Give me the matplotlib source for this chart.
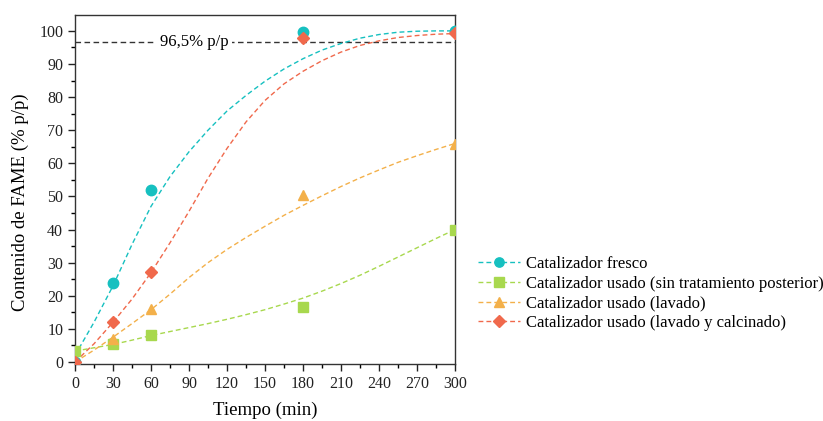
import matplotlib
matplotlib.use("Agg")
import matplotlib.pyplot as plt
from matplotlib.ticker import MultipleLocator

plt.rcParams['font.family'] = ['Liberation Serif', 'DejaVu Serif']

# measured points
t_pts = [0, 30, 60, 180, 300]
fresco = [0, 23.8, 52.0, 99.8, 100.0]
sin_trat = [3.2, 5.3, 8.1, 16.7, 40.0]
lavado = [0, 6.9, 15.9, 50.4, 65.8]
lav_calc = [0, 12.2, 27.3, 97.9, 99.3]

# fitted curves
t_fit = [0, 15, 30, 45, 60, 75, 90, 105, 120, 135, 150, 165, 180, 195, 210, 225, 240, 255, 270, 285, 300]
fit_fresco = [2, 12, 23, 35.5, 47, 56, 63.5, 70, 75.8, 80.5, 84.8, 88.5, 91.6, 94.2, 96.2, 97.8, 98.9, 99.6, 99.9, 100, 100]
fit_sin = [3.3, 4.3, 5.3, 6.6, 8.0, 9.2, 10.4, 11.6, 12.9, 14.3, 15.8, 17.5, 19.3, 21.4, 23.7, 26.2, 28.9, 31.7, 34.5, 37.3, 40.0]
fit_lav = [0, 3.6, 7.5, 11.6, 15.8, 20.5, 25.5, 30, 34, 37.6, 41, 44.3, 47.3, 50.2, 53, 55.6, 58, 60.3, 62.3, 64.2, 66]
fit_calc = [0, 5.5, 12, 19, 27, 36, 45.5, 55.5, 64.5, 72.5, 79, 84, 87.8, 91, 93.6, 95.6, 97, 98, 98.6, 99, 99.2]

labels = ["Catalizador fresco",
          "Catalizador usado (sin tratamiento posterior)",
          "Catalizador usado (lavado)",
          "Catalizador usado (lavado y calcinado)"]
colors = ["#16c0c0", "#a8d84e", "#f3b04a", "#f0694c"]
markers = ["o", "s", "^", "D"]
ref_value = 96.5
xticks = list(range(0, 301, 30))
yticks = list(range(0, 101, 10))

fig = plt.figure(figsize=(8.23, 4.21), dpi=100)
ax = fig.add_axes([75/823, 1-364/421, 380/823, 349/421])

series = [(fresco, fit_fresco), (sin_trat, fit_sin), (lavado, fit_lav), (lav_calc, fit_calc)]
handles = []
for (pts, fit), c, m, lab in zip(series, colors, markers, labels):
    ax.plot(t_fit, fit, color=c, lw=1.0, dashes=(3.5, 2.2), zorder=2)
    ms = 7.5 if m != 'D' else 6.6
    ax.plot(t_pts, pts, linestyle='none', marker=m, color=c, ms=ms, zorder=3)
    h, = ax.plot([], [], color=c, lw=1.0, dashes=(3.5, 2.2), marker=m, ms=ms - 0.8, label=lab)
    handles.append(h)

ax.axhline(ref_value, color='#333333', lw=1.0, dashes=(4, 2.5), zorder=1)
ax.text(94, ref_value, "96,5% p/p", ha='center', va='center', fontsize=12,
        bbox=dict(facecolor='white', edgecolor='none', pad=2.5), zorder=1.5)

ax.set_xlim(0, 300)
ax.set_ylim(-0.6, 104.8)
ax.set_xticks(xticks)
ax.set_yticks(yticks)
ax.xaxis.set_minor_locator(MultipleLocator(15))
ax.yaxis.set_minor_locator(MultipleLocator(5))
ax.tick_params(which='major', direction='out', length=5, width=1, labelsize=11.5, colors='#222222', top=False, right=False)
ax.tick_params(which='minor', direction='out', length=3, width=1, top=False, right=False)
for s in ax.spines.values():
    s.set_color('#333333')
    s.set_linewidth(1.0)

fig.text(265/823, 1-402/421, "Tiempo (min)", ha='center', va='top', fontsize=13.5)
fig.text(20/823, 1-202/421, "Contenido de FAME (% p/p)", ha='center', va='center',
         rotation=90, fontsize=13.5)

fig.legend(handles=handles, loc='upper left', bbox_to_anchor=(478/823, 1-256/421),
           frameon=False, fontsize=12, handlelength=2.5, handletextpad=0.35,
           labelspacing=0.22, numpoints=1, borderaxespad=0, borderpad=0)

fig.savefig("out.png", dpi=100)
